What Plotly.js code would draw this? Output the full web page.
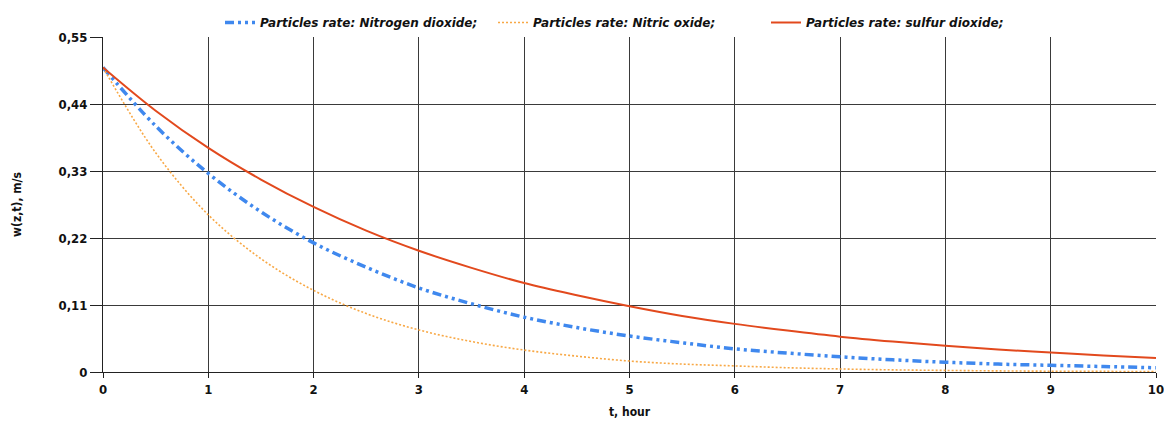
<!DOCTYPE html>
<html>
<head>
<meta charset="utf-8">
<script src="https://cdn.plot.ly/plotly-3.0.1.min.js"></script>
<style>html,body{margin:0;padding:0;background:#fff;}#chart{width:1164px;height:428px;}</style>
</head>
<body>
<div id="chart"></div>
<script>
const tHours = [0,0.5,1,1.5,2,2.5,3,3.5,4,4.5,5,5.5,6,6.5,7,7.5,8,8.5,9,9.5,10];
const nitrogenDioxide = [0.500,0.404,0.326,0.263,0.212,0.172,0.138,0.112,0.090,0.073,0.059,0.048,0.038,0.031,0.025,0.020,0.016,0.013,0.011,0.009,0.007];
const nitricOxide = [0.500,0.360,0.258,0.186,0.134,0.096,0.069,0.050,0.036,0.026,0.018,0.013,0.010,0.007,0.005,0.0035,0.0026,0.0018,0.0013,0.0010,0.0007];
const sulfurDioxide = [0.500,0.429,0.368,0.316,0.271,0.232,0.199,0.171,0.146,0.126,0.108,0.092,0.079,0.068,0.058,0.050,0.043,0.037,0.032,0.027,0.023];
const seriesNames = ["Particles rate: Nitrogen dioxide;","Particles rate: Nitric oxide;","Particles rate: sulfur dioxide;"];
const yTickVals = [0,0.11,0.22,0.33,0.44,0.55];
const yTickText = ["0","0,11","0,22","0,33","0,44","0,55"];
const xTickVals = [0,1,2,3,4,5,6,7,8,9,10];

const fam = "'DejaVu Sans Condensed', 'DejaVu Sans', sans-serif";
const famLeg = "'DejaVu Sans', sans-serif";
const traces = [
  {x:tHours, y:nitrogenDioxide, name:seriesNames[0], mode:'lines', line:{color:'#3f88ee', width:3.5, dash:'9px,4px,3px,4px,3px,4px', shape:'spline'}},
  {x:tHours, y:nitricOxide, name:seriesNames[1], mode:'lines', line:{color:'#f8a845', width:1.6, dash:'2px,2px', shape:'spline'}},
  {x:tHours, y:sulfurDioxide, name:seriesNames[2], mode:'lines', line:{color:'#e2491d', width:2, shape:'spline'}}
];
const layout = {
  width:1164, height:428,
  margin:{l:103, r:8, t:37, b:56},
  separators:', ',
  paper_bgcolor:'#fff', plot_bgcolor:'#fff',
  font:{family:fam, color:'#111'},
  showlegend:true,
  legend:{orientation:'h', x:0.5, xanchor:'center', y:1.0, yanchor:'bottom',
    entrywidth:228, entrywidthmode:'pixels',
    font:{family:famLeg, size:12, style:'italic', weight:'bold', color:'#111'}, itemwidth:30, tracegroupgap:0},
  xaxis:{range:[0,10], tickvals:xTickVals, showgrid:true, gridcolor:'#3a3a3a', gridwidth:1,
    showline:true, linecolor:'#222', linewidth:1, mirror:false, zeroline:false,
    ticks:'outside', ticklen:5, tickcolor:'#222', ticklabeloverflow:'allow',
    tickfont:{family:fam, size:13, weight:'bold', color:'#111'},
    title:{text:'t, hour', font:{family:fam, size:12, weight:'bold', color:'#111'}, standoff:12}},
  yaxis:{range:[0,0.55], tickvals:yTickVals, ticktext:yTickText, showgrid:true, gridcolor:'#3a3a3a', gridwidth:1,
    showline:true, linecolor:'#222', linewidth:1, zeroline:false,
    ticks:'outside', ticklen:12, tickcolor:'#222', ticklabeloverflow:'allow',
    tickfont:{family:fam, size:13, weight:'bold', color:'#111'},
    title:{text:'w(z,t), m/s', font:{family:fam, size:12, weight:'bold', color:'#111'}, standoff:34}}
};
Plotly.newPlot('chart', traces, layout, {displayModeBar:false, staticPlot:true});
</script>
</body>
</html>
